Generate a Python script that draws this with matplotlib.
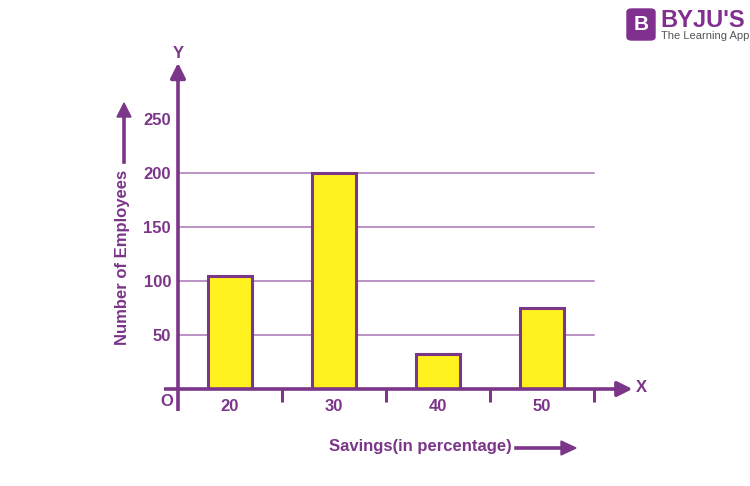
import matplotlib.pyplot as plt
from matplotlib.patches import FancyBboxPatch

# data
savings = [20, 30, 40, 50]
employees = [105, 200, 32, 75]
y_ticks = [50, 100, 150, 200, 250]
grid_levels = [50, 100, 150, 200]
x_dividers = [25, 35, 45, 55]

PURPLE = '#7b3589'
GRID = '#a874b5'
YELLOW = '#fff21f'

plt.rcParams['font.family'] = ['Liberation Sans', 'DejaVu Sans']
plt.rcParams['font.weight'] = 'bold'

fig = plt.figure(figsize=(7.5, 4.86), dpi=100)
W, H = 750, 486
# axes placed so x 15..55 -> px 178..594 and y 0..250 -> px 389..119
ax = fig.add_axes([178 / W, (H - 389) / H, (594 - 178) / W, 270 / H])
ax.set_xlim(15, 55)
ax.set_ylim(0, 250)
for s in ax.spines.values():
    s.set_visible(False)

for g in grid_levels:
    ax.plot([15, 55], [g, g], color=GRID, lw=1.1, zorder=1, clip_on=False)

ax.bar(savings, employees, width=4.15, color=YELLOW, edgecolor=PURPLE,
       linewidth=2.2, zorder=3)

# axes with arrow heads
ax.plot([15, 15], [-20, 290], color=PURPLE, lw=2.6, zorder=4, clip_on=False,
        solid_capstyle='butt')
ax.annotate('', xy=(15, 302), xytext=(15, 288), xycoords='data',
            arrowprops=dict(arrowstyle='-|>,head_width=0.45,head_length=0.9',
                            color=PURPLE, lw=2.6, shrinkA=0, shrinkB=0),
            annotation_clip=False)
ax.plot([13.7, 57.3], [0, 0], color=PURPLE, lw=2.6, zorder=4, clip_on=False,
        solid_capstyle='butt')
ax.annotate('', xy=(58.7, 0), xytext=(57, 0), xycoords='data',
            arrowprops=dict(arrowstyle='-|>,head_width=0.45,head_length=0.9',
                            color=PURPLE, lw=2.6, shrinkA=0, shrinkB=0),
            annotation_clip=False)

ax.set_xticks(x_dividers)
ax.set_xticklabels([])
ax.tick_params(axis='x', which='major', direction='out', length=9, width=2.2,
               color=PURPLE)
ax.set_xticks(savings, minor=True)
ax.set_xticklabels([str(v) for v in savings], minor=True)
ax.tick_params(axis='x', which='minor', length=0, pad=7, labelsize=12,
               labelcolor=PURPLE)
ax.set_yticks(y_ticks)
ax.set_yticklabels([str(v) for v in y_ticks])
ax.tick_params(axis='y', length=0, pad=5, labelsize=12, labelcolor=PURPLE)
for lab in ax.get_xticklabels(minor=True) + ax.get_yticklabels():
    lab.set_fontweight('bold')

fig.text(178 / W, 1 - 53 / H, 'Y', color=PURPLE, fontsize=12,
         fontweight='bold', ha='center', va='center')
fig.text(641 / W, 1 - 387 / H, 'X', color=PURPLE, fontsize=12,
         fontweight='bold', ha='center', va='center')
fig.text(167 / W, 1 - 401 / H, 'O', color=PURPLE, fontsize=12,
         fontweight='bold', ha='center', va='center')

fig.text(122 / W, 1 - 257 / H, 'Number of Employees', color=PURPLE,
         fontsize=12, fontweight='bold', rotation=90, ha='center', va='center')
fig.text(420 / W, 1 - 446 / H, 'Savings(in percentage)', color=PURPLE,
         fontsize=12, fontweight='bold', ha='center', va='center')

# label arrows
fig.add_artist(plt.Line2D([124 / W, 124 / W], [1 - 162 / H, 1 - 116 / H],
                          color=PURPLE, lw=2.6))
fig.patches.append(plt.Polygon([[117 / W, 1 - 117 / H], [131 / W, 1 - 117 / H],
                                [124 / W, 1 - 103 / H]], closed=True,
                               color=PURPLE, transform=fig.transFigure))
fig.add_artist(plt.Line2D([516 / W, 562 / W], [1 - 448 / H, 1 - 448 / H],
                          color=PURPLE, lw=2.6))
fig.patches.append(plt.Polygon([[561 / W, 1 - 441 / H], [561 / W, 1 - 455 / H],
                                [576 / W, 1 - 448 / H]], closed=True,
                               color=PURPLE, transform=fig.transFigure))

# logo
fig.patches.append(FancyBboxPatch((627 / W, 1 - 40 / H), 28 / W, 31 / H,
                                  boxstyle='round,pad=0,rounding_size=0.006',
                                  color='#80308f', transform=fig.transFigure))
fig.text(641 / W, 1 - 25 / H, 'B', color='white', fontsize=15,
         fontweight='bold', ha='center', va='center')
fig.text(660 / W, 1 - 27 / H, "BYJU'S", color='#80308f', fontsize=17,
         fontweight='bold', ha='left', va='baseline')
fig.text(661 / W, 1 - 39 / H, 'The Learning App', color='#555555',
         fontsize=8, fontweight='normal', ha='left', va='baseline')

fig.savefig('out.png', dpi=100, facecolor='white')
